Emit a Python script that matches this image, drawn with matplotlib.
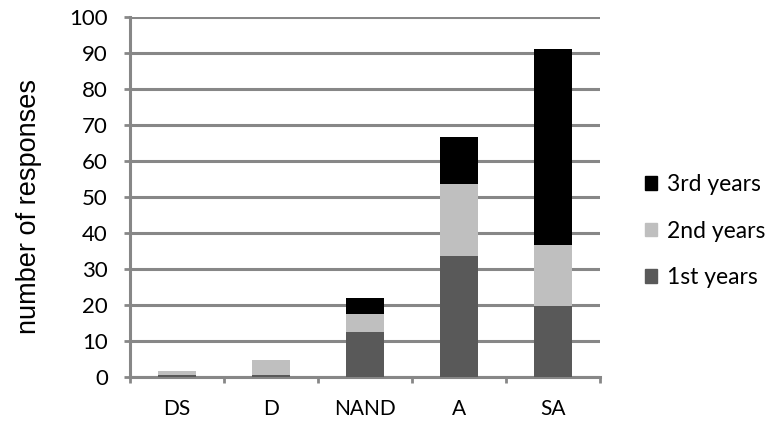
import numpy as np
import matplotlib.pyplot as plt
from matplotlib.patches import Patch

plt.rcParams['font.family'] = ['Lato', 'DejaVu Sans']

# --- data ---
categories = ['DS', 'D', 'NAND', 'A', 'SA']
first_years = [0.5, 0.5, 12.5, 33.5, 19.6]
second_years = [1.2, 4.2, 4.9, 20.0, 17.1]
third_years = [0.0, 0.0, 4.5, 13.2, 54.3]

C1, C2, C3 = '#595959', '#bfbfbf', '#000000'
GRID = '#878787'
FS = 16

fig = plt.figure(figsize=(7.74, 4.36), dpi=100, facecolor='white')
ax = fig.add_axes([0.168, 0.136, 0.607, 0.825])

x = np.arange(len(categories))
w = 0.4
b1 = np.array(first_years)
b2 = b1 + np.array(second_years)
ax.bar(x, first_years, w, color=C1, zorder=3)
ax.bar(x, second_years, w, bottom=b1, color=C2, zorder=3)
ax.bar(x, third_years, w, bottom=b2, color=C3, zorder=3)

ax.set_xlim(-0.5, len(categories) - 0.5)
ax.set_ylim(0, 100)
ax.set_yticks(np.arange(0, 101, 10))
ax.yaxis.grid(True, color=GRID, lw=2.2, zorder=1)
ax.set_axisbelow(True)

ax.set_xticks(x)
ax.set_xticklabels(categories)
ax.set_xticks(np.arange(-0.5, len(categories)), minor=True)
ax.tick_params(axis='x', which='major', length=0, pad=16, labelsize=15)
ax.tick_params(axis='x', which='minor', length=4, width=2, color=GRID)
ax.tick_params(axis='y', length=4, width=2, color=GRID, pad=12, labelsize=FS)

for side in ('top', 'right'):
    ax.spines[side].set_visible(False)
for side in ('left', 'bottom'):
    ax.spines[side].set_color(GRID)
    ax.spines[side].set_linewidth(2.2)

ax.set_ylabel('number of responses', fontsize=19.5, family='Liberation Sans')
ax.yaxis.set_label_coords(-0.188, 0.474)

handles = [Patch(color=C3), Patch(color=C2), Patch(color=C1)]
fig.legend(handles, ['3rd years', '2nd years', '1st years'],
           loc='center left', bbox_to_anchor=(0.833, 0.47), frameon=False,
           borderpad=0, borderaxespad=0,
           fontsize=16.5, handlelength=0.55, handleheight=0.55,
           handletextpad=0.4, labelspacing=1.1)

fig.savefig('out.png', dpi=100)
